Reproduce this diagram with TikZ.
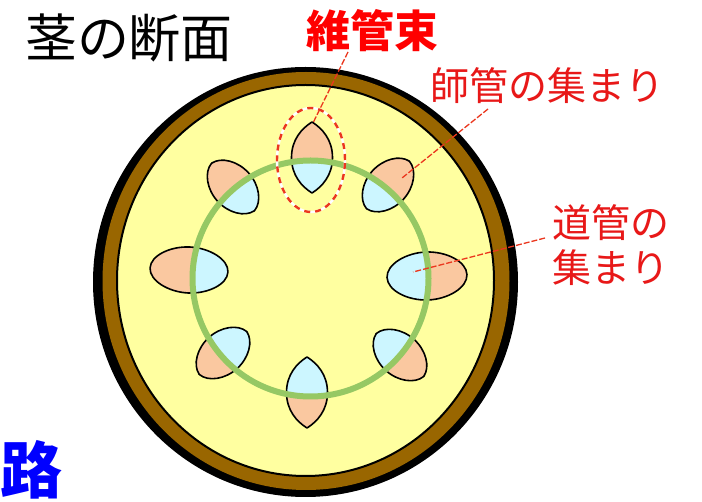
\documentclass[tikz,border=0pt]{standalone}
\usepackage{fontspec}
\newfontfamily\jp{Noto Sans CJK JP}
\definecolor{barkbrown}{RGB}{153,102,0}
\definecolor{pith}{RGB}{255,255,160}
\definecolor{phl}{RGB}{250,200,160}
\definecolor{xyl}{RGB}{204,246,255}
\definecolor{cambium}{RGB}{150,200,100}
\definecolor{lbl}{RGB}{232,24,24}
\definecolor{rdash}{RGB}{235,55,30}
\definecolor{kanji}{RGB}{0,0,255}
% #1 style, #2 half length, #3 half width, #4/#5 tip control factors
\newcommand\bdo[5]{\path[#1] (#2,0) .. controls (#4*#2,#5*#3) and (0.5*#2,#3) .. (0,#3) .. controls (-0.5*#2,#3) and (-#4*#2,#5*#3) .. (-#2,0) .. controls (-#4*#2,-#5*#3) and (-0.5*#2,-#3) .. (0,-#3) .. controls (0.5*#2,-#3) and (#4*#2,-#5*#3) .. cycle;}
% #1 x, #2 y, #3 angle, #4 half length, #5 half width, #6/#7 tip factors
\newcommand\bundle[7]{%
  \begin{scope}[shift={(#1,#2)},rotate=#3]\bdo{fill=phl}{#4}{#5}{#6}{#7}\end{scope}
  \begin{scope}
    \clip (gc) circle[radius=118pt];
    \begin{scope}[shift={(#1,#2)},rotate=#3]\bdo{fill=xyl}{#4}{#5}{#6}{#7}\end{scope}
  \end{scope}
  \begin{scope}[shift={(#1,#2)},rotate=#3]\bdo{bundleline}{#4}{#5}{#6}{#7}\end{scope}}
\tikzset{
  bundleline/.style={draw=black,line width=1.6pt,line join=round},
  leader/.style={draw=rdash,line width=1.3pt,dash pattern=on 6pt off 2pt},
  redlabel/.style={text=lbl,inner sep=0pt,font=\jp\fontsize{39}{45}\selectfont},
}
\begin{document}
\begin{tikzpicture}[x=1pt,y=-1pt]
\useasboundingbox (0,0) rectangle (702,502);
\fill[white] (0,0) rectangle (702,502);
% stem
\coordinate (sc) at (305.5,282);
\coordinate (gc) at (310.5,278.5);
\fill[black] (sc) ellipse[x radius=212.5pt,y radius=215pt];
\fill[barkbrown] (306,281) ellipse[x radius=203.5pt,y radius=209pt];
\filldraw[fill=pith,draw=black,line width=2pt] (305.5,280.5) ellipse[x radius=188.5pt,y radius=195.5pt];
% vascular bundles
\bundle{312}{157.5}{90}{35.5}{20.5}{0.82}{0.5}
\bundle{388}{185}{48}{32}{21}{0.95}{0.55}
\bundle{427}{276}{2}{40}{24}{1}{0.55}
\bundle{400}{355}{-42}{32}{21}{0.95}{0.55}
\bundle{307}{392.5}{-90}{35.5}{20.5}{0.82}{0.5}
\bundle{223}{353}{-138}{32}{21}{0.95}{0.55}
\bundle{189}{270}{177}{39}{23}{1}{0.55}
\bundle{233}{187}{132}{32}{21}{0.95}{0.55}
% cambium ring
\draw[cambium,line width=6pt] (gc) circle[radius=118pt];
% dashed ellipse around one bundle
\draw[white,line width=2.4pt] (311,160) ellipse[x radius=34pt,y radius=52pt];
\draw[rdash,line width=2.4pt,dash pattern=on 6pt off 5pt] (311,160) ellipse[x radius=34pt,y radius=52pt];
% texts
\node[inner sep=0pt,font=\jp\fontsize{52}{52}\selectfont] (title) at (129,38) {茎の断面};
\node[inner sep=0pt,text=red,font=\jp\bfseries\fontsize{44}{44}\selectfont] (vb) at (372,31) {維管束};
\node[redlabel] (phloem) at (547,86) {師管の集まり};
\node[redlabel,align=left] (xylem) at (611,245) {道管の\\集まり};
\node[inner sep=0pt,text=kanji,font=\jp\bfseries\fontsize{62}{62}\selectfont] (ro) at (31.5,470) {路};
% leaders
\coordinate (vbs) at (348,52);
\coordinate (vbe) at (313,123);
\coordinate (phs) at (488,109);
\coordinate (phe) at (402,178);
\coordinate (xys) at (545,238);
\coordinate (xye) at (413,272);
\draw[leader] (vbs) -- (vbe);
\draw[leader] (phs) -- (phe);
\draw[leader] (xys) -- (xye);
\end{tikzpicture}
\end{document}
